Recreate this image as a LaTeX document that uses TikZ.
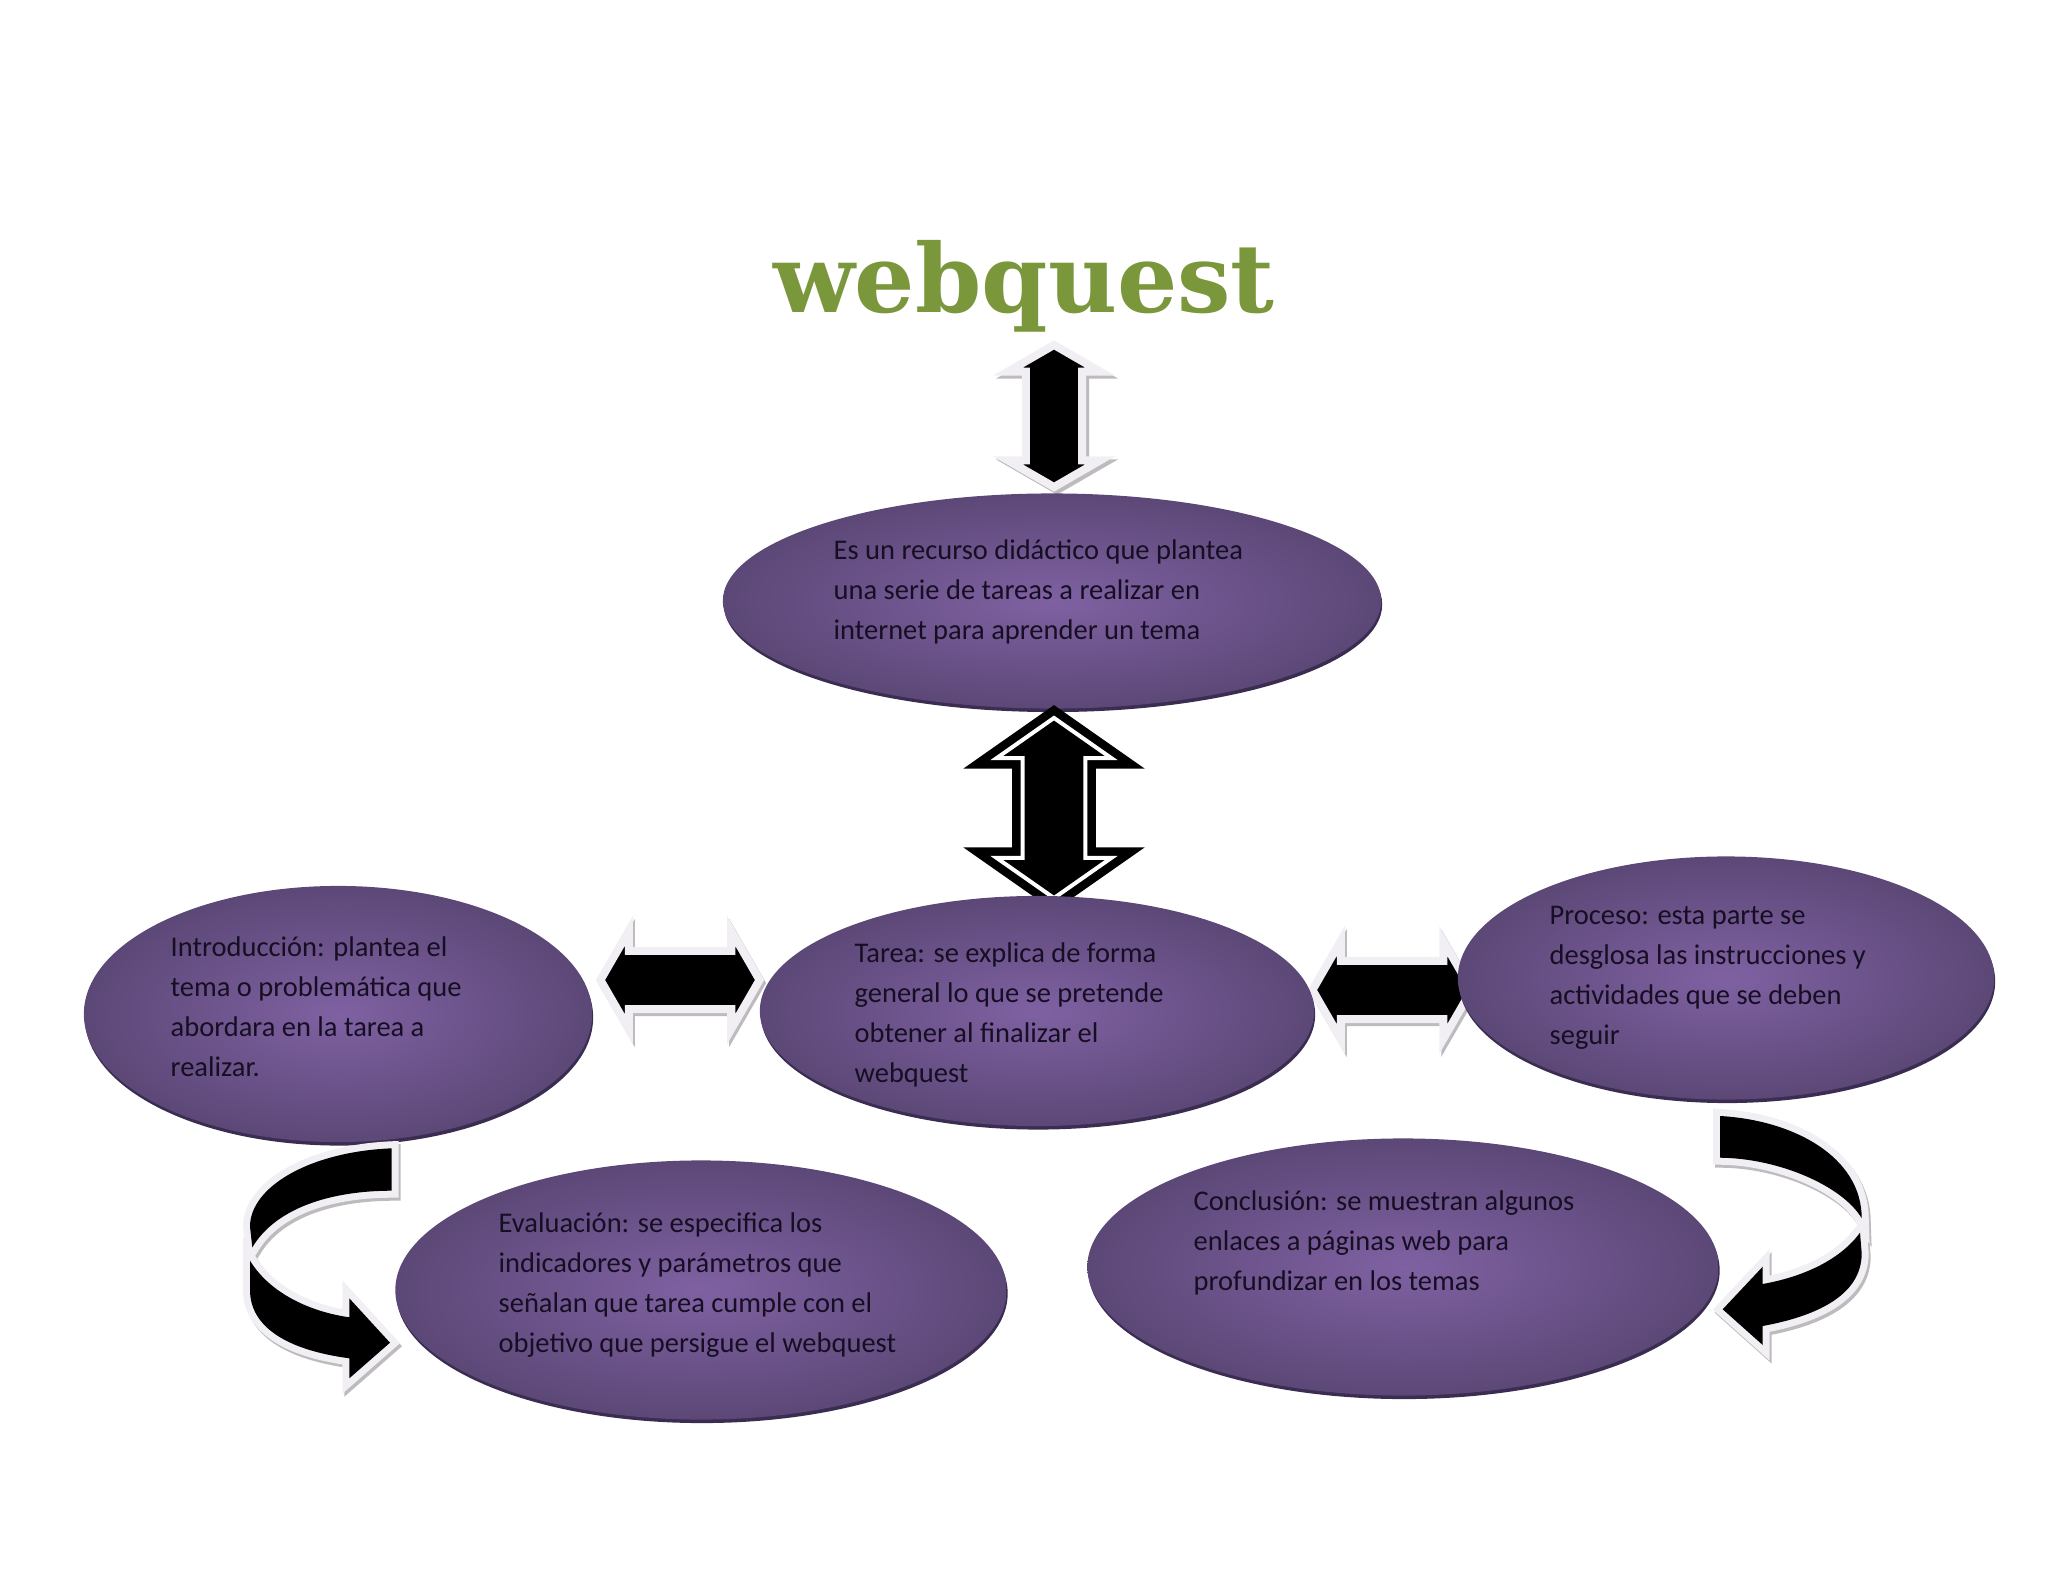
\documentclass[tikz,border=0pt]{standalone}
\usepackage{fontspec}
\setmainfont{Carlito}
\newfontfamily\titlefont{DejaVu Serif}
\usetikzlibrary{shapes.geometric, shapes.arrows, shadows}
\definecolor{violetin}{HTML}{7F61A2}
\definecolor{violetout}{HTML}{5C4877}
\definecolor{violetrim}{HTML}{3B2D52}
\definecolor{titlegreen}{HTML}{7A983B}
\definecolor{arrowrim}{HTML}{F1EFF3}
\definecolor{arrowshade}{HTML}{BDBBBD}
\definecolor{inktext}{HTML}{160E22}

\def\curveleft{(391.7,1148.3) .. controls (310,1151.7) and (250,1186.7) .. (250,1226.7) -- (252.3,1247.3)
  .. controls (276.7,1206.7) and (333.3,1190.7) .. (391.7,1190.7) -- cycle
  (250,1260.7) .. controls (270,1293.3) and (310,1311.7) .. (349.3,1317.3) -- (349.3,1298.3)
  -- (390,1342.7) -- (349.3,1378.3) -- (349.3,1358.3)
  .. controls (286.7,1350) and (250,1326.7) .. (250,1290) -- cycle}
\def\curveright{(1720,1116) .. controls (1793.3,1120) and (1861.7,1156.7) .. (1861.7,1218.3)
  .. controls (1843.3,1186.7) and (1780,1158.3) .. (1720,1157.7) -- cycle
  (1860,1232.7) .. controls (1840,1260) and (1803.3,1276.7) .. (1762.7,1284) -- (1762.7,1266.7)
  -- (1722.7,1309.3) -- (1762.7,1345) -- (1762.7,1326)
  .. controls (1813.3,1316.7) and (1861.7,1296.7) .. (1861.7,1253.3) -- cycle}

\begin{document}
\begin{tikzpicture}[x=0.01cm,y=-0.01cm,
    globe/.style={ellipse, inner sep=0pt, inner color=violetin, outer color=violetout,
      drop shadow={shadow xshift=0.1mm, shadow yshift=-0.35mm, fill=violetrim, opacity=1}},
    blurb/.style={anchor=north west, inner sep=0pt, align=left, text=inktext,
      font=\fontsize{8.1}{11.34}\selectfont},
    whitearrow/.style={double arrow, double arrow tip angle=120, inner xsep=0pt, inner ysep=2.5mm,
      double arrow head extend=2mm, fill=black, draw=arrowrim, line width=0.8mm, miter limit=10},
    rimline/.style={draw=arrowshade, line width=1.4mm, shift={(2,3)}},
    rimfill/.style={draw=arrowrim, line width=1.4mm},
    blackfill/.style={fill=black}]
  \useasboundingbox (0,0) rectangle (2048,1582);

  \node[text=titlegreen, font=\titlefont\bfseries\fontsize{27}{27}\selectfont] (title) at (1024,286) {webquest};

  % arrow under the title, with its grey edge
  \node[whitearrow, rotate=90, draw=arrowshade, fill=arrowshade, minimum height=14.2mm, inner ysep=2.4mm,
    double arrow head extend=1.8mm] (topshade) at (1057,419) {};
  \node[whitearrow, rotate=90, minimum height=14.2mm, inner ysep=2.4mm,
    double arrow head extend=1.8mm] (toparrow) at (1054,416) {};

  \node[globe, minimum width=65.8mm, minimum height=21.5mm] (recurso) at (1052,601) {};

  \node[double arrow, rotate=90, double arrow tip angle=110, inner xsep=0pt, inner ysep=2.7mm,
    double arrow head extend=2.6mm, minimum height=18mm, fill=black, draw=black,
    line width=0.85mm, double=white, double distance=0.4mm] (midarrow) at (1054,808) {};

  % side arrows, the ovals lie over their tips
  \foreach \p/\q/\n in {680/980/left, 1392/990/right}
    {\node[whitearrow, draw=arrowshade, fill=arrowshade, minimum height=15.9mm] (\n shade) at (\p+2,\q+3) {};
     \node[whitearrow, minimum height=15.9mm] (\n arrow) at (\p,\q) {};}

  \foreach \p/\w/\h/\n in {{1037,1011}/55.4/23/tarea, {338,1014}/50.8/25.6/intro,
      {1726,978}/53.6/24.3/proceso, {701,1290}/61.1/25.9/evaluacion, {1403,1267}/63.1/25.7/conclusion}
    {\node[globe, minimum width=\w mm, minimum height=\h mm] (\n) at (\p) {};}

  % curved arrows
  \foreach \s in {rimline, rimfill, blackfill}
    {\path[\s] \curveleft;
     \path[\s] \curveright;}

  \node[blurb] (t1) at (833,539) {Es un recurso didáctico que plantea\\una serie de tareas a realizar en\\internet para aprender un tema};
  \node[blurb] (t2) at (854,942) {Tarea: se explica de forma\\general lo que se pretende\\obtener al finalizar el\\webquest};
  \node[blurb] (t3) at (170,936) {Introducción: plantea el\\tema o problemática que\\abordara en la tarea a\\realizar.};
  \node[blurb] (t4) at (1549,906) {Proceso: esta parte se\\desglosa las instrucciones y\\actividades que se deben\\seguir};
  \node[blurb] (t5) at (498,1212) {Evaluación: se especifica los\\indicadores y parámetros que\\señalan que tarea cumple con el\\objetivo que persigue el webquest};
  \node[blurb] (t6) at (1193,1190) {Conclusión: se muestran algunos\\enlaces a páginas web para\\profundizar en los temas};
\end{tikzpicture}
\end{document}
